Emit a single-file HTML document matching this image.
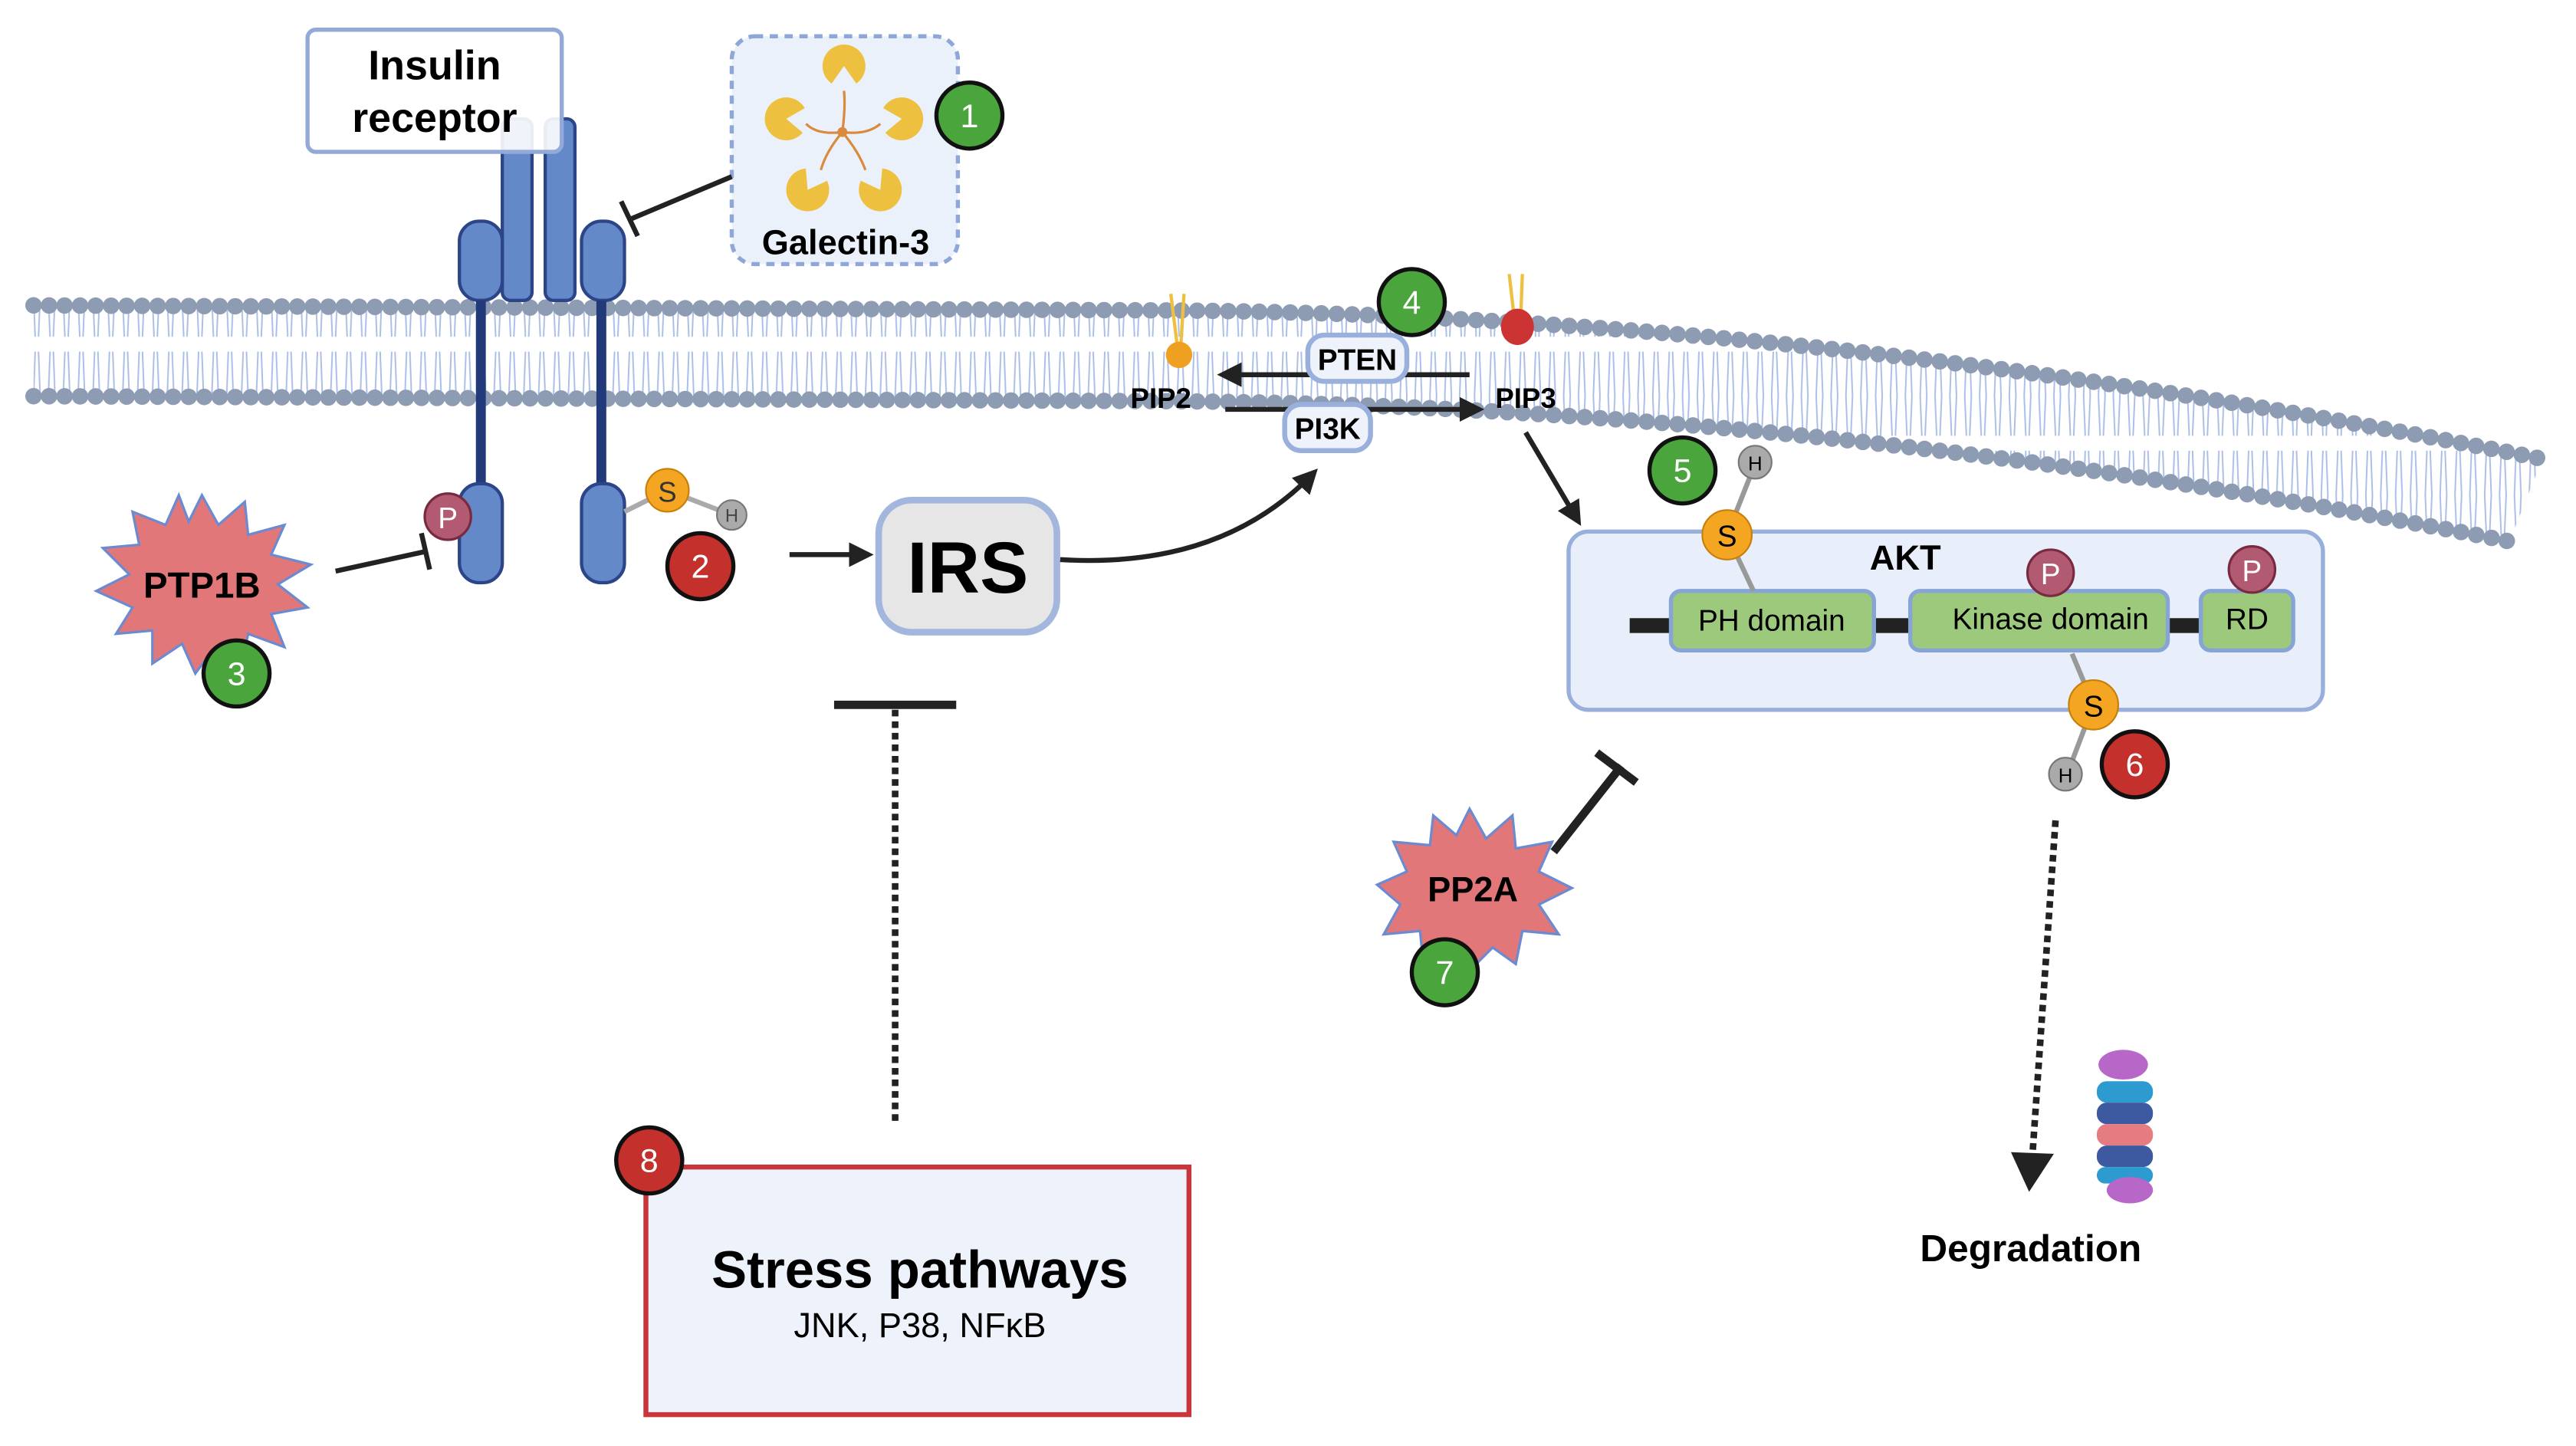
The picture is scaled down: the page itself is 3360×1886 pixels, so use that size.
<!DOCTYPE html>
<html><head><meta charset="utf-8"><style>
html,body{margin:0;padding:0;background:#fff}
svg{display:block}
text{font-family:"Liberation Sans",sans-serif}
</style></head><body>
<svg width="3360" height="1886" viewBox="0 0 1560 876" xmlns="http://www.w3.org/2000/svg">
<defs>
<marker id="ah" viewBox="0 0 10 10" refX="8" refY="5" markerWidth="5" markerHeight="5" orient="auto"><path d="M0,0 L10,5 L0,10 z" fill="#222"/></marker>
<pattern id="tails" width="9" height="60" patternUnits="userSpaceOnUse"><path d="M2,0 L3,24 M6,0 L5,24 M2,60 L3,33 M6,60 L5,33" stroke="#a9bde6" stroke-width="0.9" fill="none"/></pattern>
<path id="pac" d="M0,0 L10.65,-7.46 A13,13 0 1,0 10.65,7.46 Z" fill="#edc13f"/>
</defs>
<!-- membrane -->
<path d="M20,185 L700,188 Q1100,190 1540,278 L1520,328 Q1100,245 700,243 L20,240 Z" fill="url(#tails)"/>
<path d="M20,185 L700,188 Q1100,190 1540,278" fill="none" stroke="#8d9bb3" stroke-width="10" stroke-linecap="round" stroke-dasharray="0 9.4"/>
<path d="M20,240 L700,243 Q1100,245 1520,328" fill="none" stroke="#8d9bb3" stroke-width="10" stroke-linecap="round" stroke-dasharray="0 9.4"/>

<!-- insulin receptor -->
<rect x="304" y="72" width="18" height="110" rx="5" fill="#6389c8" stroke="#2b4588" stroke-width="2"/>
<rect x="330" y="72" width="18" height="110" rx="5" fill="#6389c8" stroke="#2b4588" stroke-width="2"/>
<rect x="278" y="134" width="26" height="48" rx="12" fill="#6389c8" stroke="#2b4588" stroke-width="2"/>
<rect x="352" y="134" width="26" height="48" rx="12" fill="#6389c8" stroke="#2b4588" stroke-width="2"/>
<line x1="291" y1="182" x2="291" y2="298" stroke="#223a7a" stroke-width="6"/>
<line x1="364" y1="182" x2="364" y2="298" stroke="#223a7a" stroke-width="6"/>
<rect x="278" y="293" width="26" height="60" rx="12" fill="#6389c8" stroke="#2b4588" stroke-width="2"/>
<rect x="352" y="293" width="26" height="60" rx="12" fill="#6389c8" stroke="#2b4588" stroke-width="2"/>
<rect x="186" y="18" width="154" height="74" rx="5" fill="#fff" fill-opacity="0.9" stroke="#93a9d8" stroke-width="2.5"/>
<text x="263" y="48" font-size="25" font-weight="bold" text-anchor="middle">Insulin</text>
<text x="263" y="80" font-size="25" font-weight="bold" text-anchor="middle">receptor</text>
<circle cx="271" cy="313" r="14" fill="#b35a73" stroke="#7a2a40" stroke-width="1.5"/>
<text x="271" y="320" font-size="18" fill="#fff" text-anchor="middle">P</text>
<line x1="378" y1="310" x2="404" y2="297" stroke="#aaa" stroke-width="3"/>
<line x1="404" y1="297" x2="443" y2="312" stroke="#aaa" stroke-width="3"/>
<circle cx="404" cy="297" r="13" fill="#f4a623" stroke="#c77f0c"/>
<text x="404" y="304" font-size="17" text-anchor="middle" fill="#333">S</text>
<circle cx="443" cy="312" r="9" fill="#aaa" stroke="#777"/>
<text x="443" y="316" font-size="11" text-anchor="middle" fill="#444">H</text>

<!-- galectin -->
<rect x="443" y="22" width="137" height="138" rx="14" fill="#ebf1fa" stroke="#8fa6d8" stroke-width="2.5" stroke-dasharray="5 4"/>
<g stroke="#d98a3d" stroke-width="1.5" fill="none"><path d="M510,80 Q512,65 511,55 M510,80 Q495,82 488,75 M510,80 Q525,82 533,75 M510,80 Q500,92 497,103 M510,80 Q520,92 524,103"/></g>
<circle cx="510" cy="80" r="3" fill="#d98a3d"/>
<use href="#pac" transform="translate(511,40) rotate(90)"/>
<use href="#pac" transform="translate(476,72) rotate(5)"/>
<use href="#pac" transform="translate(546,72) rotate(175)"/>
<use href="#pac" transform="translate(489,115) rotate(-60)"/>
<use href="#pac" transform="translate(533,115) rotate(-120)"/>
<text x="512" y="154" font-size="21" font-weight="bold" text-anchor="middle">Galectin-3</text>
<line x1="443" y1="107" x2="381" y2="133" stroke="#222" stroke-width="3"/>
<line x1="376" y1="122" x2="386" y2="143" stroke="#222" stroke-width="3"/>

<!-- PTP1B -->
<polygon points="122,300 132,318 148,304 150,324 172,318 164,336 188,342 168,354 186,368 164,372 172,392 150,384 146,404 130,392 118,408 110,390 92,402 92,382 70,384 80,368 58,358 78,348 62,332 84,330 80,310 100,318 108,300 114,316" fill="#e2777a" stroke="#6b8ad0" stroke-width="1.5"/>
<text x="122" y="362" font-size="22" font-weight="bold" text-anchor="middle">PTP1B</text>
<line x1="203" y1="346" x2="258" y2="334" stroke="#222" stroke-width="3"/>
<line x1="255" y1="323" x2="260" y2="345" stroke="#222" stroke-width="3"/>

<!-- IRS -->
<line x1="478" y1="336" x2="526" y2="336" stroke="#222" stroke-width="3" marker-end="url(#ah)"/>
<rect x="532" y="303" width="108" height="80" rx="20" fill="#e6e6e6" stroke="#a3b6de" stroke-width="4"/>
<text x="586" y="359" font-size="44" font-weight="bold" text-anchor="middle">IRS</text>
<path d="M642,339 Q740,345 796,286" fill="none" stroke="#222" stroke-width="3" marker-end="url(#ah)"/>

<!-- Stress -->
<line x1="505" y1="427" x2="579" y2="427" stroke="#222" stroke-width="5"/>
<line x1="542" y1="430" x2="542" y2="682" stroke="#222" stroke-width="4" stroke-dasharray="4 3"/>
<rect x="391" y="707" width="329" height="150" fill="#eef3fb" stroke="#c8353a" stroke-width="3"/>
<text x="557" y="780" font-size="32" font-weight="bold" text-anchor="middle">Stress pathways</text>
<text x="557" y="810" font-size="21" text-anchor="middle">JNK, P38, NFκB</text>

<!-- PIP -->
<line x1="709" y1="178" x2="713" y2="210" stroke="#edc13f" stroke-width="2"/><line x1="717" y1="178" x2="715" y2="210" stroke="#edc13f" stroke-width="2"/>
<circle cx="714" cy="215" r="8" fill="#f0a020"/>
<line x1="914" y1="166" x2="917" y2="192" stroke="#edc13f" stroke-width="2"/><line x1="922" y1="166" x2="921" y2="192" stroke="#edc13f" stroke-width="2"/>
<ellipse cx="919" cy="198" rx="10" ry="11" fill="#cc3333"/>
<line x1="890" y1="227" x2="740" y2="227" stroke="#222" stroke-width="3" marker-end="url(#ah)"/>
<line x1="742" y1="248" x2="896" y2="248" stroke="#222" stroke-width="3" marker-end="url(#ah)"/>
<rect x="792" y="203" width="60" height="28" rx="10" fill="#eef3fb" stroke="#9ab0dc" stroke-width="3"/>
<text x="822" y="224" font-size="18" font-weight="bold" text-anchor="middle">PTEN</text>
<rect x="778" y="245" width="52" height="28" rx="10" fill="#eef3fb" stroke="#9ab0dc" stroke-width="3"/>
<text x="804" y="266" font-size="18" font-weight="bold" text-anchor="middle">PI3K</text>
<text x="703" y="247" font-size="17" font-weight="bold" text-anchor="middle">PIP2</text>
<text x="924" y="247" font-size="17" font-weight="bold" text-anchor="middle">PIP3</text>
<line x1="924" y1="262" x2="956" y2="316" stroke="#222" stroke-width="3" marker-end="url(#ah)"/>

<!-- AKT -->
<rect x="950" y="322" width="457" height="108" rx="12" fill="#e8effa" stroke="#98aedb" stroke-width="2.5"/>
<text x="1154" y="345" font-size="21" font-weight="bold" text-anchor="middle">AKT</text>
<line x1="987" y1="379" x2="1332" y2="379" stroke="#222" stroke-width="9"/>
<rect x="1012" y="358" width="123" height="36" rx="6" fill="#9cc97c" stroke="#86a5d6" stroke-width="2.5"/>
<text x="1073" y="382" font-size="18" text-anchor="middle">PH domain</text>
<rect x="1157" y="358" width="156" height="36" rx="6" fill="#9cc97c" stroke="#86a5d6" stroke-width="2.5"/>
<text x="1242" y="381" font-size="18" text-anchor="middle">Kinase domain</text>
<rect x="1333" y="358" width="56" height="36" rx="6" fill="#9cc97c" stroke="#86a5d6" stroke-width="2.5"/>
<text x="1361" y="381" font-size="18" text-anchor="middle">RD</text>
<circle cx="1242" cy="347" r="14" fill="#b35a73" stroke="#7a2a40" stroke-width="1.5"/><text x="1242" y="354" font-size="18" fill="#fff" text-anchor="middle">P</text>
<circle cx="1364" cy="345" r="14" fill="#b35a73" stroke="#7a2a40" stroke-width="1.5"/><text x="1364" y="352" font-size="18" fill="#fff" text-anchor="middle">P</text>
<line x1="1046" y1="324" x2="1063" y2="281" stroke="#999" stroke-width="3"/><line x1="1046" y1="324" x2="1062" y2="358" stroke="#999" stroke-width="3"/>
<circle cx="1063" cy="280" r="10" fill="#aaa" stroke="#777"/><text x="1063" y="285" font-size="12" text-anchor="middle">H</text>
<circle cx="1046" cy="324" r="15" fill="#f4a623" stroke="#c77f0c"/><text x="1046" y="331" font-size="18" text-anchor="middle">S</text>
<line x1="1268" y1="427" x2="1252" y2="469" stroke="#999" stroke-width="3"/><line x1="1268" y1="427" x2="1255" y2="396" stroke="#999" stroke-width="3"/>
<circle cx="1251" cy="469" r="10" fill="#aaa" stroke="#777"/><text x="1251" y="474" font-size="12" text-anchor="middle">H</text>
<circle cx="1268" cy="427" r="15" fill="#f4a623" stroke="#c77f0c"/><text x="1268" y="434" font-size="18" text-anchor="middle">S</text>

<!-- PP2A -->
<polygon points="890,490 900,508 916,494 918,514 940,510 932,528 952,538 932,548 944,566 922,564 918,584 904,574 890,588 878,574 862,584 860,564 838,566 848,548 834,536 852,528 844,510 866,512 868,494 882,506" fill="#e2777a" stroke="#6b8ad0" stroke-width="1.5"/>
<text x="892" y="546" font-size="21" font-weight="bold" text-anchor="middle">PP2A</text>
<line x1="941" y1="516" x2="982" y2="464" stroke="#222" stroke-width="5"/>
<line x1="967" y1="456" x2="991" y2="474" stroke="#222" stroke-width="5"/>

<!-- degradation -->
<line x1="1245" y1="497" x2="1231" y2="700" stroke="#222" stroke-width="4" stroke-dasharray="4 3"/>
<polygon points="1218,698 1244,699 1229,722" fill="#222"/>
<g>
<ellipse cx="1286" cy="645" rx="15" ry="9" fill="#b667c8"/>
<rect x="1270" y="655" width="34" height="13" rx="6" fill="#2d9bd0"/>
<rect x="1270" y="668" width="34" height="13" rx="6" fill="#3d5aa0"/>
<rect x="1270" y="681" width="34" height="13" rx="6" fill="#e57c82"/>
<rect x="1270" y="694" width="34" height="13" rx="6" fill="#3d5aa0"/>
<rect x="1270" y="707" width="34" height="10" rx="5" fill="#2d9bd0"/>
<ellipse cx="1290" cy="721" rx="14" ry="8" fill="#b667c8"/>
</g>
<text x="1230" y="764" font-size="23" font-weight="bold" text-anchor="middle">Degradation</text>

<!-- badges -->
<g font-size="20" text-anchor="middle" fill="#fff" stroke-width="2.5" stroke="#111">
<circle cx="587" cy="70" r="20" fill="#4aa53c"/>
<circle cx="424" cy="343" r="20" fill="#c4302b"/>
<circle cx="143" cy="408" r="20" fill="#4aa53c"/>
<circle cx="855" cy="183" r="20" fill="#4aa53c"/>
<circle cx="1019" cy="285" r="20" fill="#4aa53c"/>
<circle cx="1293" cy="463" r="20" fill="#c4302b"/>
<circle cx="875" cy="589" r="20" fill="#4aa53c"/>
<circle cx="393" cy="703" r="20" fill="#c4302b"/>
</g>
<g font-size="20" text-anchor="middle" fill="#fff">
<text x="587" y="77">1</text><text x="424" y="350">2</text><text x="143" y="415">3</text><text x="855" y="190">4</text>
<text x="1019" y="292">5</text><text x="1293" y="470">6</text><text x="875" y="596">7</text><text x="393" y="710">8</text>
</g>
</svg>
</body></html>
